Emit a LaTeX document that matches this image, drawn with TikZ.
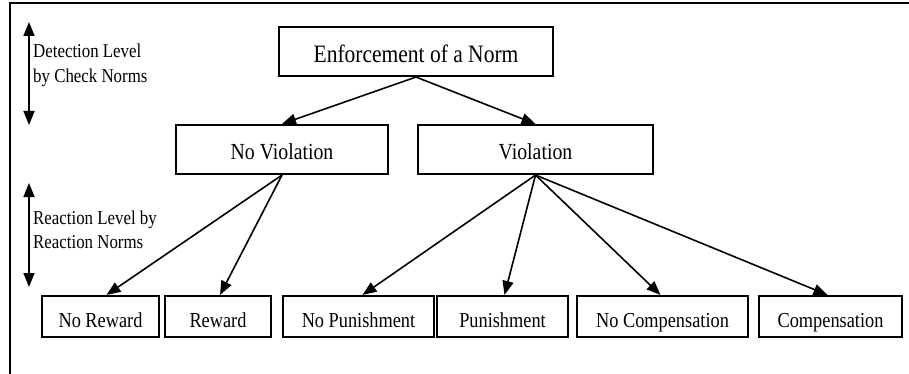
\documentclass[tikz,border=0pt]{standalone}
\usepackage{fontspec}
\setmainfont{Liberation Serif}[FakeStretch=0.86]
\usetikzlibrary{arrows.meta}
\begin{document}
\begin{tikzpicture}[x=1pt,y=-1pt,
  box/.style={draw,line width=2.1pt,inner sep=0pt,text depth=0pt},
  topbox/.style={box,minimum height=49pt,text height=23pt,font=\fontsize{25}{30}\selectfont},
  midbox/.style={box,minimum height=49pt,text height=21pt,font=\fontsize{23}{28}\selectfont},
  leafbox/.style={box,minimum height=41pt,text height=21pt,font=\fontsize{21.3}{26}\selectfont},
  conn/.style={line width=1.6pt,-{Triangle[length=14pt,width=11pt]}},
  span/.style={line width=1.6pt,{Triangle[length=14pt,width=11pt]}-{Triangle[length=14pt,width=11pt]}},
  side/.style={anchor=base west,inner sep=0pt,font=\fontsize{19.6}{24}\selectfont}]
\useasboundingbox (0,0) rectangle (909,374);

% frame
\draw[line width=2.2pt] (10,374) -- (10,3) -- (909,3);

% tree nodes
\node[topbox,minimum width=274pt] (enf) at (416,51.5) {Enforcement of a Norm};
\node[midbox,minimum width=212pt] (nov) at (282,149.5) {No Violation};
\node[midbox,minimum width=235pt] (vio) at (535.5,149.5) {Violation};

\node[leafbox,minimum width=117pt] (nrw) at (100.5,316.5) {No Reward};
\node[leafbox,minimum width=106pt] (rew) at (218,316.5) {Reward};
\node[leafbox,minimum width=151pt] (npu) at (358.5,316.5) {No Punishment};
\node[leafbox,minimum width=131pt] (pun) at (502.5,316.5) {Punishment};
\node[leafbox,minimum width=171pt] (nco) at (662.5,316.5) {No Compensation};
\node[leafbox,minimum width=143pt] (com) at (830.5,316.5) {Compensation};

% connectors
\draw[conn] (enf.south) -- (nov.north);
\draw[conn] (enf.south) -- (vio.north);
\draw[conn] (nov.south) -- ([xshift=6pt]nrw.north);
\draw[conn] (nov.south) -- ([xshift=2pt]rew.north);
\draw[conn] (vio.south) -- ([xshift=4pt]npu.north);
\draw[conn] (vio.south) -- ([xshift=2pt]pun.north);
\draw[conn] (vio.south) -- ([xshift=-2pt]nco.north);
\draw[conn] (vio.south) -- ([xshift=-3pt]com.north);

% level markers
\coordinate (d1) at (29,22);
\coordinate (d2) at (29,125);
\coordinate (r1) at (29,183);
\coordinate (r2) at (29,287);
\draw[span] (d1) -- (d2);
\draw[span] (r1) -- (r2);

\node[side] (det1) at (33,58) {Detection Level};
\node[side] (det2) at (33,83) {by Check Norms};
\node[side] (rea1) at (33,224) {Reaction Level by};
\node[side] (rea2) at (33,248) {Reaction Norms};
\end{tikzpicture}
\end{document}
